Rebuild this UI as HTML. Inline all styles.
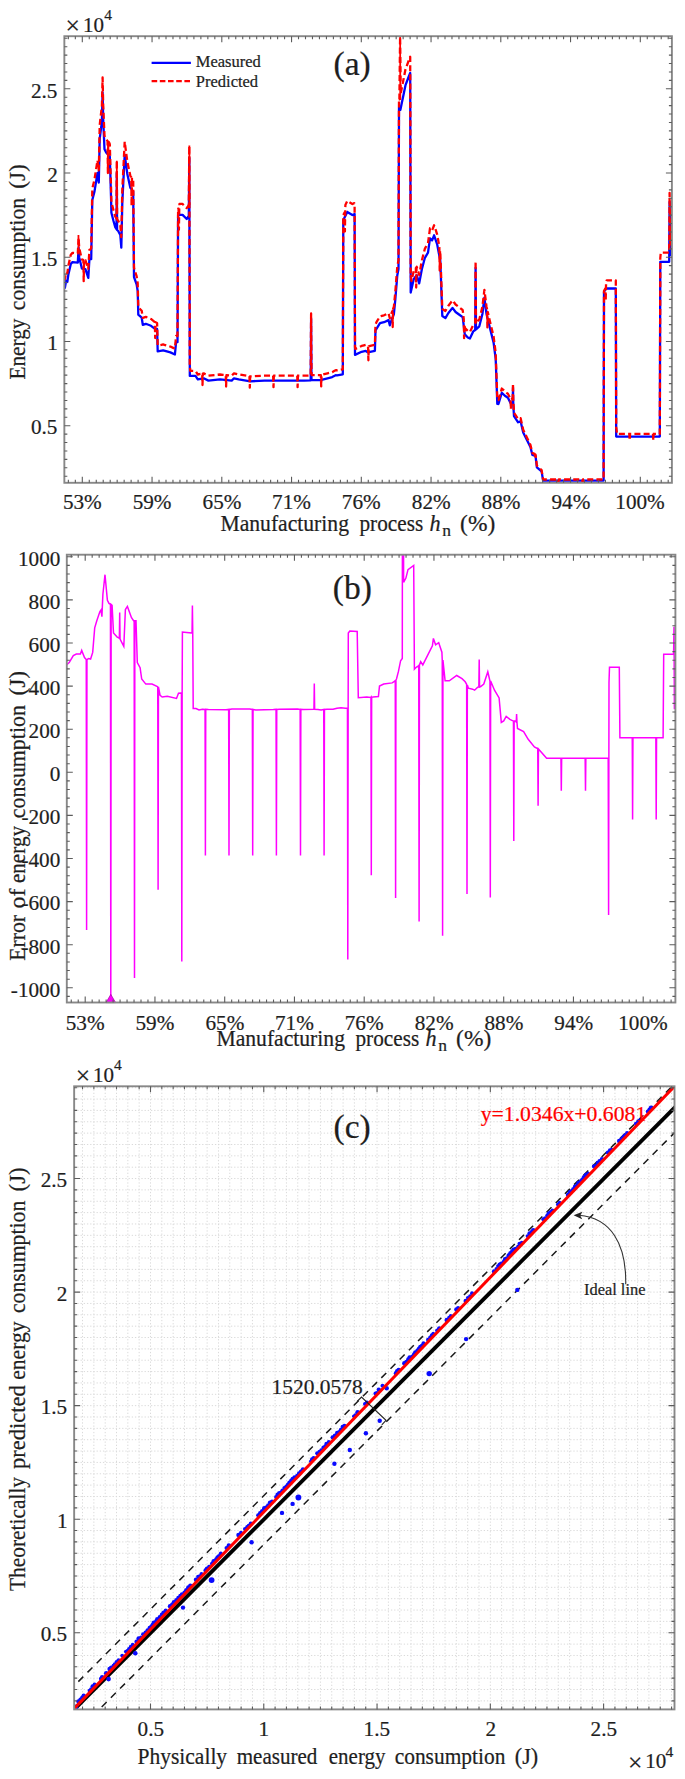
<!DOCTYPE html>
<html><head><meta charset="utf-8"><title>Energy consumption figure</title>
<style>html,body{margin:0;padding:0;background:#fff;}svg{display:block;}text{font-family:"Liberation Serif", serif;fill:#1e1e1e;stroke:#1e1e1e;stroke-width:0.22px;}</style>
</head><body>
<svg width="685" height="1779" viewBox="0 0 685 1779">
<rect width="685" height="1779" fill="#fff"/>
<defs><clipPath id="ca"><rect x="64.35" y="36.2" width="607.55" height="446.6"/></clipPath>
<clipPath id="cb"><rect x="66.8" y="554.7" width="608.6" height="447.8"/></clipPath>
<clipPath id="cc"><rect x="74.15" y="1086.3" width="600.35" height="623.1"/></clipPath></defs>
<g clip-path="url(#ca)" fill="none" stroke-linejoin="round">
<polyline points="64,286.1 64.9,287.8 66.1,280.8 67.3,282 68.4,274.4 70.8,263.9 72.5,262.1 77.8,262.7 78.6,247.5 79.2,257.4 81.9,268.5 85.4,269.1 88.3,277.9 89.4,259.2 91.2,259.2 92.3,200 94.5,191.4 97.5,173 98.8,182.6 99.7,138.8 101.9,121.3 102.6,92.5 103.2,119.6 104.5,149.3 106.3,152.8 109.8,156.3 111.1,200 111.4,212.8 113.5,221 115.2,227 116.5,229 116.8,173 117.1,230 118.2,231 120.3,235 121.3,247.6 122.3,202.6 124.7,154.6 127.3,173.9 130.4,187.9 133.2,191.4 134,277 136.6,284.4 137.7,291 138.3,314.6 141.7,317.7 142.8,324.8 145.8,323.8 151,325.8 155,328.9 157.1,329 157.7,351.4 163.2,350.4 170.4,352.4 174.9,354.5 176.1,342.2 177.5,342.2 178.1,214.9 182.6,214.9 186.7,219 188.8,216 189.3,158 189.8,375.9 195.5,375.9 197.8,379.4 203.7,378.3 208.4,380.6 220,379.4 231.7,380.6 234,378.3 238.7,379.4 250.4,381.3 264.4,380.6 278.4,380.6 297.1,380.6 304.1,380.6 310.7,380.4 311.1,318.7 311.5,380.1 320.5,380.1 327.5,378.3 332.2,377.1 335.7,375.2 337,375.3 342.8,374.3 343.3,220 347.3,211.9 352.4,215 354.6,214 355,354.9 361.6,351.8 365.7,350.8 367.7,352.4 374.9,350.8 375.5,330.4 380,323.2 384,322.2 388.5,320.1 389.8,325.3 391.2,321.2 393.9,314 395.3,299.7 397.3,275.2 398.5,269 399,107.7 400.4,109.7 405.5,85.2 408.6,77 410.2,72.9 410.7,292.6 413.7,279.3 416.7,275.2 419.2,283.4 421.9,269 424.9,257.8 428,252.7 430,238.4 432.1,240.4 434.1,235.3 437.2,244.5 440.3,260.9 442.3,316 445.4,318.1 448.4,313 452.5,307.9 455.6,312 459.7,315 462.7,317.1 464.8,334.4 467.8,337.5 469.9,338.5 473.2,331.4 475.2,330 475.6,268 476,329.3 479.3,326.3 482.4,314 484.4,297.7 486.5,314 489.5,326.3 493.6,342.6 495.7,359 497.3,403.9 498.5,404 501.8,392.7 504.9,395.8 507.9,397.8 511,404 512.7,402 513,387.6 513.3,405 514,416.2 518.1,422.3 520.6,421.3 523.2,432.5 526.3,438.7 530.4,446.9 532.4,455 535.5,456 536.9,467.3 541.6,471.4 543.1,480.6 603.6,480.6 604,292 605.3,289.5 607.2,288.5 615.8,288.5 616.2,436.6 659.8,436.6 660.3,261.8 669.2,261.8 669.6,202 670.3,255 671.2,245.5 672.5,215" stroke="#0000ff" stroke-width="2.3"/>
<polyline points="64,277.68 64.9,279.32 66.1,272.24 66.3,272.43 67.3,273.29 68.4,265.54 70.4,256.52 70.8,254.75 72.5,252.89 73.4,252.95 77.5,253.42 77.8,253.39 78.6,238.01 78.8,241.27 79.2,247.95 81.6,258.29 81.9,259.55 83.35,259.94 83.7,281.14 84.05,260.06 85.4,260.22 85.7,261.11 87.7,267.22 88.3,268.9 89.4,249.93 89.8,249.83 91.2,248.49 91.8,215.62 92.3,188.58 93.9,181.9 94.5,179.41 97,163.5 97.5,160.38 98.1,164.74 98.8,170.31 99,160.7 99.7,125.4 100,122.49 101.9,106 102.1,97.63 102.6,77.47 103.2,105.07 104.5,135.86 106.1,139.21 106.3,139.61 107.55,140.93 107.9,172.98 108.25,141.63 109.2,142.65 109.8,144.18 110.6,172.3 111.1,189.15 111.4,201.98 113.5,210.36 114.3,213.26 115.2,216.46 116.4,218.35 116.45,218.5 116.5,218.29 116.8,160.52 117.1,219.29 117.15,219.63 118.2,220.74 120.3,225.06 120.9,232.71 121.3,237.03 122.3,190.23 122.5,185.87 124.5,145.63 124.7,141.68 127.3,161.54 128.6,167.69 130.4,176.02 130.7,176.42 131.25,177.11 131.6,205.49 131.95,177.99 133.1,179.42 133.2,179.8 134,267.42 134.4,269.56 136.6,276.14 137.2,279.82 137.7,283.1 138.3,307.03 138.8,307.76 141.7,310.69 142.8,317.9 142.9,317.87 145.8,316.91 149.1,318.17 151,318.97 154.5,321.81 154.85,322.12 155,329.02 155.2,338.09 155.55,322.26 157.1,322.94 157.2,326.71 157.7,345.41 159.3,345.22 163.2,344.47 164.4,344.79 170.4,346.57 173.6,348.12 174.9,348.46 175.6,341.15 176.1,336.02 177.5,336.01 178.1,208.7 178.4,208.7 178.55,208.7 178.9,229.69 179.25,208.7 179.5,203.93 182.6,203.96 183.8,205.16 186.7,208.09 188.8,205.11 188.9,193.51 189.15,164.51 189.3,146.19 189.5,232.11 189.8,364.7 189.85,365.01 190.3,370.92 193.1,370.92 195.5,371.01 196.1,371.94 197.8,374.5 199.5,374.15 202.15,373.67 202.5,385.03 202.85,373.54 203.7,373.39 205.5,374.28 208.4,375.7 220,374.51 223.1,374.83 225.75,375.07 226.1,386.53 226.45,375.14 229.1,375.39 231.7,375.66 234,373.36 238.7,374.45 246.8,375.76 249.45,376.23 249.8,387.71 250.15,376.34 250.4,376.39 252.8,376.3 264.4,375.71 270.5,375.7 273.15,375.68 273.5,387.1 273.85,375.68 276.5,375.68 278.4,375.67 294.6,375.66 297.1,375.68 297.25,375.68 297.6,387.1 297.95,375.68 300.6,375.69 304.1,375.68 310.7,375.47 310.9,344.62 311.05,321.48 311.1,313.48 311.4,357.81 311.5,373.73 311.75,375.17 315.1,375.18 318.2,375.22 320.5,375.19 320.85,375.09 321.2,386.42 321.55,374.91 324.2,374.22 327.5,373.37 330.1,372.71 332.2,372.13 334.1,371.06 335.7,370.18 337,370.27 338.1,370.07 342.5,369.35 342.8,369.29 343.3,214.99 344.55,212.44 344.9,231.39 345.25,211.03 345.4,204.87 346.9,201.66 347.3,200.86 352.4,203.98 354.3,203.12 354.6,204.4 355,347.18 355.4,348.88 361.6,345.93 363.9,345.36 365.7,344.94 367.7,346.55 367.9,346.51 368.05,346.46 368.4,360.3 368.75,346.3 370.2,345.97 374.9,344.89 375.5,324.48 376.6,321.9 380,316.33 380.8,316.1 384,315.27 388.5,313.12 389.3,316.31 389.8,318.28 391.2,314.11 392.3,311.11 392.35,310.92 392.7,327.02 393.05,309.05 393.6,307.51 393.9,306.62 395.3,291.89 395.6,288.12 397.3,266.63 397.7,264.41 398.5,260.2 399,98.85 399.4,99.38 400.1,36.84 400.4,64.27 400.7,93.41 403,82.03 405.1,71.28 405.5,69.33 408.6,60.95 410.2,56.76 410.7,276.43 410.8,275.98 411.5,280.99 413.6,271.51 413.7,271.07 415.6,268.39 415.85,267.97 416.2,287.55 416.55,267.02 416.7,266.78 417.8,270.16 419.2,274.92 419.9,271.27 421.9,260.29 424.9,248.62 425.2,248.08 428,243.04 429.5,232.09 430,228.22 430.5,228.41 432.1,230.3 432.7,228.9 434.1,225.26 435.8,230.21 437.2,234.69 439,244.63 439.35,247.1 439.7,270.5 440.05,250.8 440.3,252.31 442.2,306.09 442.3,308.85 445.4,310.95 446.4,309.25 448.4,305.74 452.5,300.41 453.8,302.05 455.6,304.52 459.1,307.24 459.7,307.73 462.3,309.75 462.7,310.08 463.6,317.61 463.75,318.93 464.1,338.14 464.45,324.69 464.8,327.66 465.5,328.55 467.8,330.97 469.7,331.91 469.9,332.01 471.7,328.21 473.2,324.87 474.8,323.62 475.2,323.34 475.6,261.33 475.95,314.97 476,322.33 476.3,320.22 476.65,322.04 477.8,320.96 479.3,319.5 480.9,313.06 482.4,306.75 484.4,289.96 484.9,293.73 486.5,306.68 486.8,308.02 487.05,309.12 487.4,327.47 487.75,311.99 489.5,319.49 491.6,328.23 493.6,336.44 495.7,353.12 496.2,367.22 497.3,399.04 498.4,400.09 498.5,400.09 500.8,392.11 501.8,388.54 503.3,389.82 504.9,391.52 507,393.06 507.9,393.69 510,397.98 510.55,399.09 510.9,409.17 511,406.69 511.25,399.7 512.6,398.11 512.7,398 513,383.63 513.3,401.06 513.35,401.87 513.7,406.85 514,412.18 514.05,412.34 514.6,413.67 518.1,419.02 520.6,418.11 520.7,418.55 523.2,429.65 525.3,434.12 526.3,436.22 530.4,444.81 531.5,449.37 532.4,453.05 534.6,453.85 534.85,453.97 535.2,458.52 535.5,454.81 535.55,454.58 536.9,465.6 539.1,467.72 541.6,470.12 543.1,479.45 543.7,479.51 554.1,479.51 558.05,479.51 558.4,482.04 558.75,479.51 572.1,479.51 582.25,479.51 582.6,482.04 582.95,479.51 602.1,479.51 603.6,479.51 604,290.91 605.3,288.41 605.3,288.41 605.7,300.45 606.1,282.06 606.6,280.6 607.2,280.28 615.8,280.28 616.2,428.38 616.4,428.38 617,433.9 627.1,433.9 629.35,433.9 629.7,440.28 630.05,433.9 642.1,433.9 652.95,433.9 653.3,440.28 653.65,433.9 659.8,433.9 660.2,294.06 660.3,258.01 660.8,252.58 669.2,252.58 669.6,192.78 670.3,245.78 670.7,241.55 671.1,235.18 671.2,235.73 671.5,233.48 672.5,210.02" stroke="#ff0000" stroke-width="2.3" stroke-dasharray="6 3.2"/>
<path d="M400.1 30 L400.3 100 M189.35 145.5 L189.5 205 M116.8 160.8 L116.9 212 M78.45 235 L78.5 250" stroke="#ff0000" stroke-width="1.8"/>
</g>
<rect x="64.35" y="36.2" width="607.55" height="446.6" fill="none" stroke="#888888" stroke-width="1.9"/>
<path d="M68.35 482.8v-3M68.35 36.2v3M75.33 482.8v-3M75.33 36.2v3M82.3 482.8v-3M82.3 36.2v3M89.27 482.8v-3M89.27 36.2v3M96.25 482.8v-3M96.25 36.2v3M103.22 482.8v-3M103.22 36.2v3M110.2 482.8v-3M110.2 36.2v3M117.17 482.8v-3M117.17 36.2v3M124.15 482.8v-3M124.15 36.2v3M131.12 482.8v-3M131.12 36.2v3M138.1 482.8v-3M138.1 36.2v3M145.07 482.8v-3M145.07 36.2v3M152.05 482.8v-3M152.05 36.2v3M159.02 482.8v-3M159.02 36.2v3M166 482.8v-3M166 36.2v3M172.97 482.8v-3M172.97 36.2v3M179.95 482.8v-3M179.95 36.2v3M186.93 482.8v-3M186.93 36.2v3M193.9 482.8v-3M193.9 36.2v3M200.88 482.8v-3M200.88 36.2v3M207.85 482.8v-3M207.85 36.2v3M214.82 482.8v-3M214.82 36.2v3M221.8 482.8v-3M221.8 36.2v3M228.77 482.8v-3M228.77 36.2v3M235.75 482.8v-3M235.75 36.2v3M242.72 482.8v-3M242.72 36.2v3M249.7 482.8v-3M249.7 36.2v3M256.68 482.8v-3M256.68 36.2v3M263.65 482.8v-3M263.65 36.2v3M270.62 482.8v-3M270.62 36.2v3M277.6 482.8v-3M277.6 36.2v3M284.57 482.8v-3M284.57 36.2v3M291.55 482.8v-3M291.55 36.2v3M298.52 482.8v-3M298.52 36.2v3M305.5 482.8v-3M305.5 36.2v3M312.47 482.8v-3M312.47 36.2v3M319.45 482.8v-3M319.45 36.2v3M326.43 482.8v-3M326.43 36.2v3M333.4 482.8v-3M333.4 36.2v3M340.38 482.8v-3M340.38 36.2v3M347.35 482.8v-3M347.35 36.2v3M354.32 482.8v-3M354.32 36.2v3M361.3 482.8v-3M361.3 36.2v3M368.27 482.8v-3M368.27 36.2v3M375.25 482.8v-3M375.25 36.2v3M382.23 482.8v-3M382.23 36.2v3M389.2 482.8v-3M389.2 36.2v3M396.18 482.8v-3M396.18 36.2v3M403.15 482.8v-3M403.15 36.2v3M410.12 482.8v-3M410.12 36.2v3M417.1 482.8v-3M417.1 36.2v3M424.07 482.8v-3M424.07 36.2v3M431.05 482.8v-3M431.05 36.2v3M438.02 482.8v-3M438.02 36.2v3M445 482.8v-3M445 36.2v3M451.97 482.8v-3M451.97 36.2v3M458.95 482.8v-3M458.95 36.2v3M465.93 482.8v-3M465.93 36.2v3M472.9 482.8v-3M472.9 36.2v3M479.88 482.8v-3M479.88 36.2v3M486.85 482.8v-3M486.85 36.2v3M493.82 482.8v-3M493.82 36.2v3M500.8 482.8v-3M500.8 36.2v3M507.77 482.8v-3M507.77 36.2v3M514.75 482.8v-3M514.75 36.2v3M521.72 482.8v-3M521.72 36.2v3M528.7 482.8v-3M528.7 36.2v3M535.67 482.8v-3M535.67 36.2v3M542.65 482.8v-3M542.65 36.2v3M549.62 482.8v-3M549.62 36.2v3M556.6 482.8v-3M556.6 36.2v3M563.57 482.8v-3M563.57 36.2v3M570.55 482.8v-3M570.55 36.2v3M577.52 482.8v-3M577.52 36.2v3M584.5 482.8v-3M584.5 36.2v3M591.47 482.8v-3M591.47 36.2v3M598.45 482.8v-3M598.45 36.2v3M605.42 482.8v-3M605.42 36.2v3M612.4 482.8v-3M612.4 36.2v3M619.37 482.8v-3M619.37 36.2v3M626.35 482.8v-3M626.35 36.2v3M633.32 482.8v-3M633.32 36.2v3M640.3 482.8v-3M640.3 36.2v3M647.27 482.8v-3M647.27 36.2v3M654.25 482.8v-3M654.25 36.2v3M661.22 482.8v-3M661.22 36.2v3M668.2 482.8v-3M668.2 36.2v3M82.3 482.8v-6M82.3 36.2v6M152.05 482.8v-6M152.05 36.2v6M221.8 482.8v-6M221.8 36.2v6M291.55 482.8v-6M291.55 36.2v6M361.3 482.8v-6M361.3 36.2v6M431.05 482.8v-6M431.05 36.2v6M500.8 482.8v-6M500.8 36.2v6M570.55 482.8v-6M570.55 36.2v6M640.3 482.8v-6M640.3 36.2v6M64.35 476.24h3M671.9 476.24h-3M64.35 467.81h3M671.9 467.81h-3M64.35 459.39h3M671.9 459.39h-3M64.35 450.97h3M671.9 450.97h-3M64.35 442.54h3M671.9 442.54h-3M64.35 434.12h3M671.9 434.12h-3M64.35 425.7h3M671.9 425.7h-3M64.35 417.28h3M671.9 417.28h-3M64.35 408.85h3M671.9 408.85h-3M64.35 400.43h3M671.9 400.43h-3M64.35 392.01h3M671.9 392.01h-3M64.35 383.59h3M671.9 383.59h-3M64.35 375.16h3M671.9 375.16h-3M64.35 366.74h3M671.9 366.74h-3M64.35 358.32h3M671.9 358.32h-3M64.35 349.9h3M671.9 349.9h-3M64.35 341.48h3M671.9 341.48h-3M64.35 333.05h3M671.9 333.05h-3M64.35 324.63h3M671.9 324.63h-3M64.35 316.21h3M671.9 316.21h-3M64.35 307.79h3M671.9 307.79h-3M64.35 299.36h3M671.9 299.36h-3M64.35 290.94h3M671.9 290.94h-3M64.35 282.52h3M671.9 282.52h-3M64.35 274.09h3M671.9 274.09h-3M64.35 265.67h3M671.9 265.67h-3M64.35 257.25h3M671.9 257.25h-3M64.35 248.83h3M671.9 248.83h-3M64.35 240.4h3M671.9 240.4h-3M64.35 231.98h3M671.9 231.98h-3M64.35 223.56h3M671.9 223.56h-3M64.35 215.14h3M671.9 215.14h-3M64.35 206.72h3M671.9 206.72h-3M64.35 198.29h3M671.9 198.29h-3M64.35 189.87h3M671.9 189.87h-3M64.35 181.45h3M671.9 181.45h-3M64.35 173.03h3M671.9 173.03h-3M64.35 164.6h3M671.9 164.6h-3M64.35 156.18h3M671.9 156.18h-3M64.35 147.76h3M671.9 147.76h-3M64.35 139.33h3M671.9 139.33h-3M64.35 130.91h3M671.9 130.91h-3M64.35 122.49h3M671.9 122.49h-3M64.35 114.07h3M671.9 114.07h-3M64.35 105.64h3M671.9 105.64h-3M64.35 97.22h3M671.9 97.22h-3M64.35 88.8h3M671.9 88.8h-3M64.35 80.38h3M671.9 80.38h-3M64.35 71.95h3M671.9 71.95h-3M64.35 63.53h3M671.9 63.53h-3M64.35 55.11h3M671.9 55.11h-3M64.35 46.69h3M671.9 46.69h-3M64.35 38.26h3M671.9 38.26h-3M64.35 425.7h6M671.9 425.7h-6M64.35 341.48h6M671.9 341.48h-6M64.35 257.25h6M671.9 257.25h-6M64.35 173.03h6M671.9 173.03h-6M64.35 88.8h6M671.9 88.8h-6" stroke="#5c5c5c" stroke-width="1.1" fill="none"/>
<text x="62.88" y="509.3" font-size="21.2">53%</text>
<text x="132.63" y="509.3" font-size="21.2">59%</text>
<text x="202.6" y="509.3" font-size="21.2">65%</text>
<text x="272.08" y="509.3" font-size="21.2">71%</text>
<text x="341.83" y="509.3" font-size="21.2">76%</text>
<text x="411.85" y="509.3" font-size="21.2">82%</text>
<text x="481.6" y="509.3" font-size="21.2">88%</text>
<text x="551.45" y="509.3" font-size="21.2">94%</text>
<text x="615.32" y="509.3" font-size="21.2">100%</text>
<text x="30.95" y="434.4" font-size="21.2">0.5</text>
<text x="47.27" y="350.18" font-size="21.2">1</text>
<text x="30.95" y="265.95" font-size="21.2">1.5</text>
<text x="47.17" y="181.72" font-size="21.2">2</text>
<text x="30.95" y="97.5" font-size="21.2">2.5</text>
<text x="65.4" y="34" font-size="25.5">×</text><text x="83.1" y="31.9" font-size="21">10</text><text x="104.2" y="20.3" font-size="15.5">4</text>
<line x1="151.6" y1="62.9" x2="190.9" y2="62.9" stroke="#0000ff" stroke-width="2.3"/>
<line x1="151.6" y1="81.1" x2="190.9" y2="81.1" stroke="#ff0000" stroke-width="2.3" stroke-dasharray="5.6 2.6"/>
<text x="195.81" y="67.4" font-size="16.5">Measured</text>
<text x="195.81" y="86.9" font-size="16.5">Predicted</text>
<text x="333.59" y="75.2" font-size="33.5">(a)</text>
<text x="220.43" y="531.2" font-size="22.2" textLength="128.56" lengthAdjust="spacingAndGlyphs">Manufacturing</text><text x="359.47" y="531.2" font-size="22.2" textLength="63.69" lengthAdjust="spacingAndGlyphs">process</text><text x="429.62" y="531.2" font-size="22.2" font-style="italic">h</text><text x="442.35" y="536" font-size="17.5">n</text><text x="460.1" y="531.2" font-size="22.2" textLength="35.18" lengthAdjust="spacingAndGlyphs">(%)</text>
<text transform="translate(24.8 379.57) rotate(-90)" font-size="22.2" textLength="61.07" lengthAdjust="spacingAndGlyphs">Energy</text><text transform="translate(24.8 310.19) rotate(-90)" font-size="22.2" textLength="112.35" lengthAdjust="spacingAndGlyphs">consumption</text>
<text transform="translate(24.8 188.8) rotate(-90)" font-size="22.2" textLength="24.7" lengthAdjust="spacingAndGlyphs">(J)</text>
<g clip-path="url(#cb)" fill="none" stroke-linejoin="miter">
<polyline points="66.7,664.7 69.2,662.6 73.3,655.5 76.3,654 80.4,654 81.7,650.4 84.5,657.5 86.25,659.6 86.6,930 86.95,659.6 88.6,658.5 90.6,659 92.7,652.4 94.7,627.9 96.8,620.7 99.9,611.5 101,610 101.9,616.6 102.9,594.2 105,574.7 107.4,600.3 109,603.4 110.45,604.5 110.8,1010 111.15,604.5 112.1,605.4 113.5,633 117.2,637.1 119.3,638 119.35,639 119.7,612.6 120.05,639 123.8,646.3 125.4,609.5 127.4,606.4 131.5,617.7 133.6,620.7 134.15,620.7 134.5,978.1 134.85,620.7 136,620.7 137.3,662.6 140.1,667.7 141.7,679 145.8,684.1 152,684.1 157.4,686.5 157.75,687 158.1,889.7 158.45,687 160.1,695.3 162.2,697 167.3,696.3 176.5,698.4 178.5,693.3 181.3,693 181.45,693 181.8,961.5 182.15,693 182.4,632 186.7,632.4 191.8,633 192.05,633 192.4,605.4 192.75,633 193.2,708.6 196,708.6 199,710 202.4,709.2 205.05,709.4 205.4,855.5 205.75,709.4 208.4,709.6 226,709.8 228.65,709.4 229,855.5 229.35,709.4 232,709.1 249.7,708.9 252.35,709.4 252.7,855.5 253.05,709.4 255.7,709.9 273.4,709.6 276.05,709.4 276.4,855.5 276.75,709.4 279.4,709.3 297.5,709.1 300.15,709.4 300.5,855.5 300.85,709.4 303.5,709.5 313.8,709.2 313.95,709.2 314.3,683.5 314.65,709.2 318,709.4 321.1,709.9 323.75,709.4 324.1,855.5 324.45,709.4 327.1,709.2 333,709.3 337,708.2 341,707.8 345.4,708.3 347.45,708 347.8,959.4 348.15,708 348.3,633.1 349.8,631 357.2,631.4 358.3,697.7 366.8,697.1 370.8,697.5 370.95,697.3 371.3,875.3 371.65,697.3 373.1,697.1 378.4,696.6 379.5,686.1 383.7,684 392.2,682.9 395.2,680.8 395.25,680 395.6,897.9 395.95,680 396.5,679 398.5,671.2 400.6,660.7 402.3,658.5 403,-200 403.6,582.3 405.9,578.1 408,569.6 413.7,565.4 414.4,669.1 416.5,667 418.5,666 418.75,665 419.1,921.6 419.45,665 420.7,661.7 422.8,664.9 428.1,654.3 432.4,645.8 433.4,638.4 435.6,644.8 438.7,642.7 441.9,652.2 442.25,660 442.6,935.7 442.95,660 445.1,680.8 449.3,680.8 456.7,675.5 462,678.7 465.2,681.8 466.5,684 466.65,685 467,893.9 467.35,685 468.4,688.2 472.6,689.2 474.6,690.2 477.7,687.1 478.85,687 479.2,659.6 479.55,687 480.7,686.5 483.8,684.1 487.8,671.8 489.7,680 489.95,681 490.3,897.4 490.65,681 494.5,690.2 499.1,697.9 501.3,722.4 503.7,720.9 506.2,716.3 509.9,719.3 512.9,720.9 513.45,721 513.8,841 514.15,721 515.5,721 516.25,722 516.6,714.1 516.95,722 517.5,728.5 523.6,731.6 528.2,739.3 534.4,746.9 537.5,748.5 537.75,749 538.1,805.8 538.45,749 542,753.1 546.6,758.3 557,758.3 560.95,758.3 561.3,790.7 561.65,758.3 575,758.3 585.15,758.3 585.5,790.7 585.85,758.3 605,758.3 608.2,758.3 608.6,915.1 609,682.5 609.5,667.2 619.3,667.2 619.9,737.7 630,737.7 632.25,737.7 632.6,819.4 632.95,737.7 645,737.7 655.85,737.7 656.2,819.4 656.55,737.7 663.1,737.7 663.7,654.3 673.6,654.3 674,626.8 674.4,708.6 676,708.6" stroke="#ff00ff" stroke-width="1.5"/>
</g>
<path d="M106.0 1002.6 L110.8 994.4 L115.6 1002.6 Z" fill="#ff00ff" stroke="#a000a0" stroke-width="0.7"/>
<rect x="66.8" y="554.7" width="608.6" height="447.8" fill="none" stroke="#888888" stroke-width="1.9"/>
<path d="M71.25 1002.5v-3M71.25 554.7v3M78.23 1002.5v-3M78.23 554.7v3M85.2 1002.5v-3M85.2 554.7v3M92.17 1002.5v-3M92.17 554.7v3M99.15 1002.5v-3M99.15 554.7v3M106.12 1002.5v-3M106.12 554.7v3M113.1 1002.5v-3M113.1 554.7v3M120.08 1002.5v-3M120.08 554.7v3M127.05 1002.5v-3M127.05 554.7v3M134.03 1002.5v-3M134.03 554.7v3M141 1002.5v-3M141 554.7v3M147.97 1002.5v-3M147.97 554.7v3M154.95 1002.5v-3M154.95 554.7v3M161.93 1002.5v-3M161.93 554.7v3M168.9 1002.5v-3M168.9 554.7v3M175.88 1002.5v-3M175.88 554.7v3M182.85 1002.5v-3M182.85 554.7v3M189.82 1002.5v-3M189.82 554.7v3M196.8 1002.5v-3M196.8 554.7v3M203.77 1002.5v-3M203.77 554.7v3M210.75 1002.5v-3M210.75 554.7v3M217.73 1002.5v-3M217.73 554.7v3M224.7 1002.5v-3M224.7 554.7v3M231.68 1002.5v-3M231.68 554.7v3M238.65 1002.5v-3M238.65 554.7v3M245.62 1002.5v-3M245.62 554.7v3M252.6 1002.5v-3M252.6 554.7v3M259.57 1002.5v-3M259.57 554.7v3M266.55 1002.5v-3M266.55 554.7v3M273.52 1002.5v-3M273.52 554.7v3M280.5 1002.5v-3M280.5 554.7v3M287.47 1002.5v-3M287.47 554.7v3M294.45 1002.5v-3M294.45 554.7v3M301.43 1002.5v-3M301.43 554.7v3M308.4 1002.5v-3M308.4 554.7v3M315.38 1002.5v-3M315.38 554.7v3M322.35 1002.5v-3M322.35 554.7v3M329.32 1002.5v-3M329.32 554.7v3M336.3 1002.5v-3M336.3 554.7v3M343.27 1002.5v-3M343.27 554.7v3M350.25 1002.5v-3M350.25 554.7v3M357.22 1002.5v-3M357.22 554.7v3M364.2 1002.5v-3M364.2 554.7v3M371.17 1002.5v-3M371.17 554.7v3M378.15 1002.5v-3M378.15 554.7v3M385.12 1002.5v-3M385.12 554.7v3M392.1 1002.5v-3M392.1 554.7v3M399.07 1002.5v-3M399.07 554.7v3M406.05 1002.5v-3M406.05 554.7v3M413.02 1002.5v-3M413.02 554.7v3M420 1002.5v-3M420 554.7v3M426.97 1002.5v-3M426.97 554.7v3M433.95 1002.5v-3M433.95 554.7v3M440.92 1002.5v-3M440.92 554.7v3M447.9 1002.5v-3M447.9 554.7v3M454.87 1002.5v-3M454.87 554.7v3M461.85 1002.5v-3M461.85 554.7v3M468.82 1002.5v-3M468.82 554.7v3M475.8 1002.5v-3M475.8 554.7v3M482.77 1002.5v-3M482.77 554.7v3M489.75 1002.5v-3M489.75 554.7v3M496.72 1002.5v-3M496.72 554.7v3M503.7 1002.5v-3M503.7 554.7v3M510.67 1002.5v-3M510.67 554.7v3M517.65 1002.5v-3M517.65 554.7v3M524.62 1002.5v-3M524.62 554.7v3M531.6 1002.5v-3M531.6 554.7v3M538.58 1002.5v-3M538.58 554.7v3M545.55 1002.5v-3M545.55 554.7v3M552.52 1002.5v-3M552.52 554.7v3M559.5 1002.5v-3M559.5 554.7v3M566.48 1002.5v-3M566.48 554.7v3M573.45 1002.5v-3M573.45 554.7v3M580.42 1002.5v-3M580.42 554.7v3M587.4 1002.5v-3M587.4 554.7v3M594.38 1002.5v-3M594.38 554.7v3M601.35 1002.5v-3M601.35 554.7v3M608.33 1002.5v-3M608.33 554.7v3M615.3 1002.5v-3M615.3 554.7v3M622.27 1002.5v-3M622.27 554.7v3M629.25 1002.5v-3M629.25 554.7v3M636.23 1002.5v-3M636.23 554.7v3M643.2 1002.5v-3M643.2 554.7v3M650.18 1002.5v-3M650.18 554.7v3M657.15 1002.5v-3M657.15 554.7v3M664.12 1002.5v-3M664.12 554.7v3M671.1 1002.5v-3M671.1 554.7v3M85.2 1002.5v-6M85.2 554.7v6M154.95 1002.5v-6M154.95 554.7v6M224.7 1002.5v-6M224.7 554.7v6M294.45 1002.5v-6M294.45 554.7v6M364.2 1002.5v-6M364.2 554.7v6M433.95 1002.5v-6M433.95 554.7v6M503.7 1002.5v-6M503.7 554.7v6M573.45 1002.5v-6M573.45 554.7v6M643.2 1002.5v-6M643.2 554.7v6M66.8 996.42h3M675.4 996.42h-3M66.8 987.8h3M675.4 987.8h-3M66.8 979.18h3M675.4 979.18h-3M66.8 970.56h3M675.4 970.56h-3M66.8 961.94h3M675.4 961.94h-3M66.8 953.32h3M675.4 953.32h-3M66.8 944.7h3M675.4 944.7h-3M66.8 936.08h3M675.4 936.08h-3M66.8 927.46h3M675.4 927.46h-3M66.8 918.84h3M675.4 918.84h-3M66.8 910.22h3M675.4 910.22h-3M66.8 901.6h3M675.4 901.6h-3M66.8 892.98h3M675.4 892.98h-3M66.8 884.36h3M675.4 884.36h-3M66.8 875.74h3M675.4 875.74h-3M66.8 867.12h3M675.4 867.12h-3M66.8 858.5h3M675.4 858.5h-3M66.8 849.88h3M675.4 849.88h-3M66.8 841.26h3M675.4 841.26h-3M66.8 832.64h3M675.4 832.64h-3M66.8 824.02h3M675.4 824.02h-3M66.8 815.4h3M675.4 815.4h-3M66.8 806.78h3M675.4 806.78h-3M66.8 798.16h3M675.4 798.16h-3M66.8 789.54h3M675.4 789.54h-3M66.8 780.92h3M675.4 780.92h-3M66.8 772.3h3M675.4 772.3h-3M66.8 763.68h3M675.4 763.68h-3M66.8 755.06h3M675.4 755.06h-3M66.8 746.44h3M675.4 746.44h-3M66.8 737.82h3M675.4 737.82h-3M66.8 729.2h3M675.4 729.2h-3M66.8 720.58h3M675.4 720.58h-3M66.8 711.96h3M675.4 711.96h-3M66.8 703.34h3M675.4 703.34h-3M66.8 694.72h3M675.4 694.72h-3M66.8 686.1h3M675.4 686.1h-3M66.8 677.48h3M675.4 677.48h-3M66.8 668.86h3M675.4 668.86h-3M66.8 660.24h3M675.4 660.24h-3M66.8 651.62h3M675.4 651.62h-3M66.8 643h3M675.4 643h-3M66.8 634.38h3M675.4 634.38h-3M66.8 625.76h3M675.4 625.76h-3M66.8 617.14h3M675.4 617.14h-3M66.8 608.52h3M675.4 608.52h-3M66.8 599.9h3M675.4 599.9h-3M66.8 591.28h3M675.4 591.28h-3M66.8 582.66h3M675.4 582.66h-3M66.8 574.04h3M675.4 574.04h-3M66.8 565.42h3M675.4 565.42h-3M66.8 556.8h3M675.4 556.8h-3M66.8 987.8h6M675.4 987.8h-6M66.8 944.7h6M675.4 944.7h-6M66.8 901.6h6M675.4 901.6h-6M66.8 858.5h6M675.4 858.5h-6M66.8 815.4h6M675.4 815.4h-6M66.8 772.3h6M675.4 772.3h-6M66.8 729.2h6M675.4 729.2h-6M66.8 686.1h6M675.4 686.1h-6M66.8 643h6M675.4 643h-6M66.8 599.9h6M675.4 599.9h-6M66.8 556.8h6M675.4 556.8h-6" stroke="#5c5c5c" stroke-width="1.1" fill="none"/>
<text x="65.78" y="1029.8" font-size="21.2">53%</text>
<text x="135.53" y="1029.8" font-size="21.2">59%</text>
<text x="205.5" y="1029.8" font-size="21.2">65%</text>
<text x="274.98" y="1029.8" font-size="21.2">71%</text>
<text x="344.73" y="1029.8" font-size="21.2">76%</text>
<text x="414.75" y="1029.8" font-size="21.2">82%</text>
<text x="484.5" y="1029.8" font-size="21.2">88%</text>
<text x="554.35" y="1029.8" font-size="21.2">94%</text>
<text x="618.22" y="1029.8" font-size="21.2">100%</text>
<text x="10.85" y="996.6" font-size="21.2">-1000</text>
<text x="21.45" y="953.5" font-size="21.2">-800</text>
<text x="21.45" y="910.4" font-size="21.2">-600</text>
<text x="21.45" y="867.3" font-size="21.2">-400</text>
<text x="21.45" y="824.2" font-size="21.2">-200</text>
<text x="49.75" y="781.1" font-size="21.2">0</text>
<text x="28.55" y="738" font-size="21.2">200</text>
<text x="28.55" y="694.9" font-size="21.2">400</text>
<text x="28.55" y="651.8" font-size="21.2">600</text>
<text x="28.55" y="608.7" font-size="21.2">800</text>
<text x="17.95" y="565.6" font-size="21.2">1000</text>
<text x="332.79" y="598.8" font-size="33.5">(b)</text>
<text x="216.43" y="1046.1" font-size="22.2" textLength="128.56" lengthAdjust="spacingAndGlyphs">Manufacturing</text><text x="355.47" y="1046.1" font-size="22.2" textLength="63.69" lengthAdjust="spacingAndGlyphs">process</text><text x="425.62" y="1046.1" font-size="22.2" font-style="italic">h</text><text x="438.35" y="1050.9" font-size="17.5">n</text><text x="456.1" y="1046.1" font-size="22.2" textLength="35.18" lengthAdjust="spacingAndGlyphs">(%)</text>
<text transform="translate(24.8 960.77) rotate(-90)" font-size="22.2" textLength="45.89" lengthAdjust="spacingAndGlyphs">Error</text><text transform="translate(24.8 908.49) rotate(-90)" font-size="22.2" textLength="19.94" lengthAdjust="spacingAndGlyphs">of</text><text transform="translate(24.8 883.09) rotate(-90)" font-size="22.2" textLength="57.15" lengthAdjust="spacingAndGlyphs">energy</text><text transform="translate(24.8 818.19) rotate(-90)" font-size="22.2" textLength="113.05" lengthAdjust="spacingAndGlyphs">consumption</text>
<text transform="translate(24.8 695.5) rotate(-90)" font-size="22.2" textLength="24.6" lengthAdjust="spacingAndGlyphs">(J)</text>
<path d="M82.53 1086.3V1709.4M74.15 1700.88H674.5M93.86 1086.3V1709.4M74.15 1689.53H674.5M105.19 1086.3V1709.4M74.15 1678.17H674.5M116.52 1086.3V1709.4M74.15 1666.82H674.5M127.84 1086.3V1709.4M74.15 1655.46H674.5M139.17 1086.3V1709.4M74.15 1644.11H674.5M150.5 1086.3V1709.4M74.15 1632.75H674.5M161.83 1086.3V1709.4M74.15 1621.39H674.5M173.16 1086.3V1709.4M74.15 1610.04H674.5M184.48 1086.3V1709.4M74.15 1598.68H674.5M195.81 1086.3V1709.4M74.15 1587.33H674.5M207.14 1086.3V1709.4M74.15 1575.97H674.5M218.47 1086.3V1709.4M74.15 1564.62H674.5M229.79 1086.3V1709.4M74.15 1553.26H674.5M241.12 1086.3V1709.4M74.15 1541.91H674.5M252.45 1086.3V1709.4M74.15 1530.56H674.5M263.77 1086.3V1709.4M74.15 1519.2H674.5M275.1 1086.3V1709.4M74.15 1507.85H674.5M286.43 1086.3V1709.4M74.15 1496.49H674.5M297.76 1086.3V1709.4M74.15 1485.13H674.5M309.09 1086.3V1709.4M74.15 1473.78H674.5M320.41 1086.3V1709.4M74.15 1462.42H674.5M331.74 1086.3V1709.4M74.15 1451.07H674.5M343.07 1086.3V1709.4M74.15 1439.71H674.5M354.39 1086.3V1709.4M74.15 1428.36H674.5M365.72 1086.3V1709.4M74.15 1417.01H674.5M377.05 1086.3V1709.4M74.15 1405.65H674.5M388.38 1086.3V1709.4M74.15 1394.3H674.5M399.71 1086.3V1709.4M74.15 1382.94H674.5M411.03 1086.3V1709.4M74.15 1371.59H674.5M422.36 1086.3V1709.4M74.15 1360.23H674.5M433.69 1086.3V1709.4M74.15 1348.88H674.5M445.02 1086.3V1709.4M74.15 1337.52H674.5M456.34 1086.3V1709.4M74.15 1326.16H674.5M467.67 1086.3V1709.4M74.15 1314.81H674.5M479 1086.3V1709.4M74.15 1303.45H674.5M490.33 1086.3V1709.4M74.15 1292.1H674.5M501.65 1086.3V1709.4M74.15 1280.74H674.5M512.98 1086.3V1709.4M74.15 1269.39H674.5M524.31 1086.3V1709.4M74.15 1258.04H674.5M535.63 1086.3V1709.4M74.15 1246.68H674.5M546.96 1086.3V1709.4M74.15 1235.33H674.5M558.29 1086.3V1709.4M74.15 1223.97H674.5M569.62 1086.3V1709.4M74.15 1212.62H674.5M580.94 1086.3V1709.4M74.15 1201.26H674.5M592.27 1086.3V1709.4M74.15 1189.9H674.5M603.6 1086.3V1709.4M74.15 1178.55H674.5M614.93 1086.3V1709.4M74.15 1167.19H674.5M626.26 1086.3V1709.4M74.15 1155.84H674.5M637.58 1086.3V1709.4M74.15 1144.49H674.5M648.91 1086.3V1709.4M74.15 1133.13H674.5M660.24 1086.3V1709.4M74.15 1121.78H674.5M671.57 1086.3V1709.4M74.15 1110.42H674.5M74.15 1099.07H674.5M74.15 1087.71H674.5" stroke="#dadada" stroke-width="1" stroke-dasharray="1.3 1.9" fill="none"/>
<g clip-path="url(#cc)" fill="none">
<line x1="69.15" y1="1690.81" x2="679.5" y2="1078.98" stroke="#1a1a1a" stroke-width="1.5" stroke-dasharray="7 6"/>
<line x1="74.15" y1="1734.6" x2="679.5" y2="1127.78" stroke="#1a1a1a" stroke-width="1.5" stroke-dasharray="7 6"/>
<line x1="71.15" y1="1712.61" x2="677.5" y2="1104.78" stroke="#000" stroke-width="3.8"/>
<circle cx="75.6" cy="1707.3" r="2.7" fill="#0a0aff"/>
<circle cx="78.47" cy="1701.39" r="2.26" fill="#0a0aff"/>
<circle cx="80.27" cy="1699.48" r="1.89" fill="#0a0aff"/>
<circle cx="82.07" cy="1697.28" r="1.85" fill="#0a0aff"/>
<circle cx="83.7" cy="1695.57" r="2.15" fill="#0a0aff"/>
<circle cx="89.64" cy="1690.71" r="2.06" fill="#0a0aff"/>
<circle cx="90.93" cy="1689" r="1.82" fill="#0a0aff"/>
<circle cx="92.55" cy="1686.34" r="2.06" fill="#0a0aff"/>
<circle cx="94.61" cy="1684.5" r="2.03" fill="#0a0aff"/>
<circle cx="100.83" cy="1678.76" r="1.94" fill="#0a0aff"/>
<circle cx="102.15" cy="1677.11" r="2.22" fill="#0a0aff"/>
<circle cx="106.17" cy="1673.26" r="2.26" fill="#0a0aff"/>
<circle cx="109.59" cy="1669.03" r="2.19" fill="#0a0aff"/>
<circle cx="111.28" cy="1667.76" r="2.28" fill="#0a0aff"/>
<circle cx="113.44" cy="1665.66" r="1.85" fill="#0a0aff"/>
<circle cx="114.83" cy="1664.34" r="2.08" fill="#0a0aff"/>
<circle cx="116.44" cy="1661.76" r="1.87" fill="#0a0aff"/>
<circle cx="118.55" cy="1660.08" r="1.91" fill="#0a0aff"/>
<circle cx="122.18" cy="1655.56" r="1.91" fill="#0a0aff"/>
<circle cx="125.89" cy="1651.55" r="1.91" fill="#0a0aff"/>
<circle cx="127.69" cy="1650.77" r="1.95" fill="#0a0aff"/>
<circle cx="128.98" cy="1649.01" r="1.92" fill="#0a0aff"/>
<circle cx="130.99" cy="1647.14" r="2.28" fill="#0a0aff"/>
<circle cx="132.69" cy="1644.71" r="1.89" fill="#0a0aff"/>
<circle cx="136.57" cy="1641.78" r="2.17" fill="#0a0aff"/>
<circle cx="138.66" cy="1638.38" r="2.24" fill="#0a0aff"/>
<circle cx="140.9" cy="1637.44" r="1.82" fill="#0a0aff"/>
<circle cx="143.06" cy="1634.22" r="1.93" fill="#0a0aff"/>
<circle cx="145.4" cy="1632.46" r="1.89" fill="#0a0aff"/>
<circle cx="147.52" cy="1630.38" r="2.08" fill="#0a0aff"/>
<circle cx="149.74" cy="1627.99" r="2.26" fill="#0a0aff"/>
<circle cx="151.27" cy="1626.43" r="2.02" fill="#0a0aff"/>
<circle cx="152.6" cy="1624.88" r="2.09" fill="#0a0aff"/>
<circle cx="153.88" cy="1622.71" r="2.29" fill="#0a0aff"/>
<circle cx="156" cy="1621.01" r="1.87" fill="#0a0aff"/>
<circle cx="157.23" cy="1619.2" r="2.15" fill="#0a0aff"/>
<circle cx="159.68" cy="1617.11" r="2.04" fill="#0a0aff"/>
<circle cx="161.66" cy="1614.46" r="1.84" fill="#0a0aff"/>
<circle cx="163.6" cy="1612.62" r="2.17" fill="#0a0aff"/>
<circle cx="165.67" cy="1610.45" r="1.98" fill="#0a0aff"/>
<circle cx="170.02" cy="1606.14" r="2.23" fill="#0a0aff"/>
<circle cx="172.08" cy="1604.67" r="2.09" fill="#0a0aff"/>
<circle cx="173.97" cy="1602.3" r="2.3" fill="#0a0aff"/>
<circle cx="176.32" cy="1600.27" r="2.17" fill="#0a0aff"/>
<circle cx="178.11" cy="1597.68" r="1.84" fill="#0a0aff"/>
<circle cx="180.31" cy="1595.78" r="2.04" fill="#0a0aff"/>
<circle cx="181.9" cy="1594.31" r="2.11" fill="#0a0aff"/>
<circle cx="184.37" cy="1592.54" r="1.95" fill="#0a0aff"/>
<circle cx="186.36" cy="1590.22" r="2.25" fill="#0a0aff"/>
<circle cx="188.16" cy="1587.18" r="1.96" fill="#0a0aff"/>
<circle cx="190.34" cy="1585.67" r="2.2" fill="#0a0aff"/>
<circle cx="195.99" cy="1579.71" r="2.22" fill="#0a0aff"/>
<circle cx="198.08" cy="1576.8" r="1.94" fill="#0a0aff"/>
<circle cx="199.78" cy="1576.14" r="1.91" fill="#0a0aff"/>
<circle cx="201.47" cy="1574.03" r="1.96" fill="#0a0aff"/>
<circle cx="205.64" cy="1570.47" r="2.24" fill="#0a0aff"/>
<circle cx="206.81" cy="1568.37" r="1.95" fill="#0a0aff"/>
<circle cx="209.12" cy="1566.69" r="2.03" fill="#0a0aff"/>
<circle cx="212.04" cy="1563.81" r="2.11" fill="#0a0aff"/>
<circle cx="213.63" cy="1561.17" r="2.2" fill="#0a0aff"/>
<circle cx="216.14" cy="1559.32" r="2.04" fill="#0a0aff"/>
<circle cx="217.54" cy="1557.41" r="2.16" fill="#0a0aff"/>
<circle cx="219.08" cy="1556.03" r="2.15" fill="#0a0aff"/>
<circle cx="220.82" cy="1553.55" r="2" fill="#0a0aff"/>
<circle cx="226.58" cy="1548.08" r="2.11" fill="#0a0aff"/>
<circle cx="228.84" cy="1545.54" r="2.24" fill="#0a0aff"/>
<circle cx="238.54" cy="1534.96" r="2.29" fill="#0a0aff"/>
<circle cx="240.95" cy="1532.64" r="1.96" fill="#0a0aff"/>
<circle cx="245.05" cy="1528.96" r="2.08" fill="#0a0aff"/>
<circle cx="247.33" cy="1527.27" r="2.2" fill="#0a0aff"/>
<circle cx="248.65" cy="1525.67" r="1.97" fill="#0a0aff"/>
<circle cx="250.82" cy="1523.45" r="2.06" fill="#0a0aff"/>
<circle cx="258.09" cy="1515.3" r="1.95" fill="#0a0aff"/>
<circle cx="260.19" cy="1513.13" r="2.22" fill="#0a0aff"/>
<circle cx="262.16" cy="1511.33" r="2.22" fill="#0a0aff"/>
<circle cx="264.29" cy="1508.34" r="2.28" fill="#0a0aff"/>
<circle cx="266.38" cy="1507.24" r="2.07" fill="#0a0aff"/>
<circle cx="268.29" cy="1505.55" r="2.28" fill="#0a0aff"/>
<circle cx="269.91" cy="1502.61" r="2.08" fill="#0a0aff"/>
<circle cx="271.99" cy="1501.66" r="2.07" fill="#0a0aff"/>
<circle cx="275.93" cy="1496.91" r="1.86" fill="#0a0aff"/>
<circle cx="277.56" cy="1494.51" r="2.04" fill="#0a0aff"/>
<circle cx="279.31" cy="1493.17" r="2.26" fill="#0a0aff"/>
<circle cx="280.94" cy="1492.45" r="1.9" fill="#0a0aff"/>
<circle cx="282.39" cy="1490.45" r="1.98" fill="#0a0aff"/>
<circle cx="284.24" cy="1487.87" r="1.86" fill="#0a0aff"/>
<circle cx="286.28" cy="1486.63" r="2.07" fill="#0a0aff"/>
<circle cx="287.99" cy="1484.51" r="2.06" fill="#0a0aff"/>
<circle cx="289.39" cy="1482.69" r="2.12" fill="#0a0aff"/>
<circle cx="291.28" cy="1480.77" r="2.23" fill="#0a0aff"/>
<circle cx="292.77" cy="1478.9" r="2.25" fill="#0a0aff"/>
<circle cx="294.38" cy="1477.04" r="1.91" fill="#0a0aff"/>
<circle cx="297.04" cy="1475.58" r="1.92" fill="#0a0aff"/>
<circle cx="299.15" cy="1473.46" r="2.22" fill="#0a0aff"/>
<circle cx="300.9" cy="1471.59" r="2" fill="#0a0aff"/>
<circle cx="302.93" cy="1469.37" r="2.14" fill="#0a0aff"/>
<circle cx="310.89" cy="1461.33" r="1.85" fill="#0a0aff"/>
<circle cx="312.09" cy="1459.36" r="2.08" fill="#0a0aff"/>
<circle cx="313.65" cy="1458.25" r="2.22" fill="#0a0aff"/>
<circle cx="317.2" cy="1453.35" r="2.03" fill="#0a0aff"/>
<circle cx="319.5" cy="1451.76" r="2.06" fill="#0a0aff"/>
<circle cx="321.42" cy="1450.51" r="2.15" fill="#0a0aff"/>
<circle cx="323.51" cy="1447.63" r="2.17" fill="#0a0aff"/>
<circle cx="325.35" cy="1446.2" r="2.06" fill="#0a0aff"/>
<circle cx="326.46" cy="1444" r="2.15" fill="#0a0aff"/>
<circle cx="328.83" cy="1442.19" r="2.1" fill="#0a0aff"/>
<circle cx="332.71" cy="1437.35" r="2.17" fill="#0a0aff"/>
<circle cx="335.03" cy="1435.77" r="2.25" fill="#0a0aff"/>
<circle cx="337.18" cy="1432.95" r="2.18" fill="#0a0aff"/>
<circle cx="339.15" cy="1432.05" r="1.97" fill="#0a0aff"/>
<circle cx="340.88" cy="1429.79" r="2.12" fill="#0a0aff"/>
<circle cx="342.67" cy="1426.97" r="2.13" fill="#0a0aff"/>
<circle cx="344.46" cy="1425.72" r="2.07" fill="#0a0aff"/>
<circle cx="353.83" cy="1416.29" r="1.83" fill="#0a0aff"/>
<circle cx="355.44" cy="1415.12" r="1.93" fill="#0a0aff"/>
<circle cx="357.61" cy="1412.21" r="2.28" fill="#0a0aff"/>
<circle cx="364.91" cy="1403.94" r="1.88" fill="#0a0aff"/>
<circle cx="366.87" cy="1402.62" r="2.11" fill="#0a0aff"/>
<circle cx="375.42" cy="1393.4" r="1.95" fill="#0a0aff"/>
<circle cx="376.95" cy="1392.92" r="1.88" fill="#0a0aff"/>
<circle cx="378.81" cy="1389.6" r="2.17" fill="#0a0aff"/>
<circle cx="382.5" cy="1385.76" r="2.01" fill="#0a0aff"/>
<circle cx="395.74" cy="1373.43" r="2.06" fill="#0a0aff"/>
<circle cx="396.98" cy="1371.14" r="2.03" fill="#0a0aff"/>
<circle cx="398.65" cy="1369.82" r="2.19" fill="#0a0aff"/>
<circle cx="404.29" cy="1363.2" r="2.19" fill="#0a0aff"/>
<circle cx="406.48" cy="1361.95" r="2.14" fill="#0a0aff"/>
<circle cx="408.28" cy="1359.49" r="2.18" fill="#0a0aff"/>
<circle cx="409.68" cy="1357.47" r="2.26" fill="#0a0aff"/>
<circle cx="412.24" cy="1356.32" r="1.94" fill="#0a0aff"/>
<circle cx="413.99" cy="1354.43" r="2.07" fill="#0a0aff"/>
<circle cx="415.19" cy="1352.26" r="2.08" fill="#0a0aff"/>
<circle cx="417.25" cy="1350.45" r="1.91" fill="#0a0aff"/>
<circle cx="418.81" cy="1348.24" r="1.84" fill="#0a0aff"/>
<circle cx="420.31" cy="1347.04" r="2.18" fill="#0a0aff"/>
<circle cx="421.96" cy="1345.92" r="2.2" fill="#0a0aff"/>
<circle cx="423.43" cy="1343.2" r="1.96" fill="#0a0aff"/>
<circle cx="427.85" cy="1339.64" r="1.85" fill="#0a0aff"/>
<circle cx="430.2" cy="1337.67" r="2.08" fill="#0a0aff"/>
<circle cx="431.97" cy="1335.49" r="2.19" fill="#0a0aff"/>
<circle cx="433.23" cy="1333.58" r="1.84" fill="#0a0aff"/>
<circle cx="437.1" cy="1330.42" r="1.98" fill="#0a0aff"/>
<circle cx="439.21" cy="1328.28" r="2.15" fill="#0a0aff"/>
<circle cx="446.79" cy="1319.96" r="2.27" fill="#0a0aff"/>
<circle cx="449.09" cy="1317.64" r="1.98" fill="#0a0aff"/>
<circle cx="450.78" cy="1315.85" r="1.9" fill="#0a0aff"/>
<circle cx="456.39" cy="1309.42" r="2.24" fill="#0a0aff"/>
<circle cx="458.08" cy="1308.07" r="2.07" fill="#0a0aff"/>
<circle cx="465.7" cy="1300.88" r="2.17" fill="#0a0aff"/>
<circle cx="467.81" cy="1297.79" r="1.87" fill="#0a0aff"/>
<circle cx="470.06" cy="1296.1" r="1.91" fill="#0a0aff"/>
<circle cx="472.03" cy="1293.21" r="2" fill="#0a0aff"/>
<circle cx="494.01" cy="1271.44" r="2.17" fill="#0a0aff"/>
<circle cx="496.39" cy="1268.94" r="1.9" fill="#0a0aff"/>
<circle cx="497.9" cy="1266.06" r="1.83" fill="#0a0aff"/>
<circle cx="499.64" cy="1264.78" r="2.19" fill="#0a0aff"/>
<circle cx="501.2" cy="1263.48" r="2.09" fill="#0a0aff"/>
<circle cx="503.62" cy="1261.55" r="1.89" fill="#0a0aff"/>
<circle cx="504.96" cy="1259.16" r="2.1" fill="#0a0aff"/>
<circle cx="506.65" cy="1258.13" r="1.89" fill="#0a0aff"/>
<circle cx="508.69" cy="1255.57" r="2.21" fill="#0a0aff"/>
<circle cx="510.41" cy="1253.23" r="2.26" fill="#0a0aff"/>
<circle cx="512.06" cy="1251.4" r="2.04" fill="#0a0aff"/>
<circle cx="513.61" cy="1249.82" r="2.2" fill="#0a0aff"/>
<circle cx="515.47" cy="1248.59" r="1.94" fill="#0a0aff"/>
<circle cx="517.95" cy="1246.48" r="1.81" fill="#0a0aff"/>
<circle cx="519.59" cy="1243.87" r="2.16" fill="#0a0aff"/>
<circle cx="521.77" cy="1242.66" r="1.96" fill="#0a0aff"/>
<circle cx="527.49" cy="1236.11" r="1.88" fill="#0a0aff"/>
<circle cx="529.54" cy="1233.51" r="2.22" fill="#0a0aff"/>
<circle cx="531.93" cy="1231.95" r="2.16" fill="#0a0aff"/>
<circle cx="533.27" cy="1230.23" r="2.28" fill="#0a0aff"/>
<circle cx="543.3" cy="1219.24" r="1.96" fill="#0a0aff"/>
<circle cx="545.11" cy="1218.23" r="2.03" fill="#0a0aff"/>
<circle cx="547.07" cy="1215.57" r="1.85" fill="#0a0aff"/>
<circle cx="548.71" cy="1213.41" r="2.21" fill="#0a0aff"/>
<circle cx="550.93" cy="1212.08" r="2.16" fill="#0a0aff"/>
<circle cx="552.46" cy="1210.36" r="1.81" fill="#0a0aff"/>
<circle cx="557.97" cy="1204.51" r="1.95" fill="#0a0aff"/>
<circle cx="559.6" cy="1202.62" r="1.93" fill="#0a0aff"/>
<circle cx="567.95" cy="1194.9" r="2.14" fill="#0a0aff"/>
<circle cx="569.93" cy="1192.34" r="2.22" fill="#0a0aff"/>
<circle cx="571.94" cy="1190.55" r="1.88" fill="#0a0aff"/>
<circle cx="573.43" cy="1189.26" r="2.26" fill="#0a0aff"/>
<circle cx="575.01" cy="1186.68" r="2.18" fill="#0a0aff"/>
<circle cx="577.32" cy="1184.8" r="2.01" fill="#0a0aff"/>
<circle cx="578.52" cy="1182.96" r="2.29" fill="#0a0aff"/>
<circle cx="580.71" cy="1180.83" r="1.81" fill="#0a0aff"/>
<circle cx="582.36" cy="1179.05" r="1.85" fill="#0a0aff"/>
<circle cx="584.04" cy="1177.1" r="2.21" fill="#0a0aff"/>
<circle cx="586.01" cy="1175.08" r="2.25" fill="#0a0aff"/>
<circle cx="588" cy="1173.45" r="1.87" fill="#0a0aff"/>
<circle cx="594.03" cy="1166.48" r="2.11" fill="#0a0aff"/>
<circle cx="595.78" cy="1165.82" r="2.09" fill="#0a0aff"/>
<circle cx="597.62" cy="1162.79" r="1.98" fill="#0a0aff"/>
<circle cx="599.42" cy="1160.85" r="1.87" fill="#0a0aff"/>
<circle cx="601.84" cy="1159.01" r="2.08" fill="#0a0aff"/>
<circle cx="607.7" cy="1152.51" r="1.94" fill="#0a0aff"/>
<circle cx="610.07" cy="1150.47" r="2.22" fill="#0a0aff"/>
<circle cx="611.74" cy="1149.55" r="1.82" fill="#0a0aff"/>
<circle cx="619.15" cy="1141.03" r="2.2" fill="#0a0aff"/>
<circle cx="620.51" cy="1139.82" r="1.87" fill="#0a0aff"/>
<circle cx="622.33" cy="1138.42" r="2.06" fill="#0a0aff"/>
<circle cx="623.87" cy="1136.56" r="2.12" fill="#0a0aff"/>
<circle cx="625.27" cy="1135.42" r="2.28" fill="#0a0aff"/>
<circle cx="627.14" cy="1133.04" r="2.11" fill="#0a0aff"/>
<circle cx="635.96" cy="1123.87" r="2.08" fill="#0a0aff"/>
<circle cx="638.22" cy="1121.37" r="2.02" fill="#0a0aff"/>
<circle cx="640.67" cy="1119.61" r="2.16" fill="#0a0aff"/>
<circle cx="647.8" cy="1111.57" r="2.05" fill="#0a0aff"/>
<circle cx="649.46" cy="1109.45" r="2.06" fill="#0a0aff"/>
<circle cx="651.12" cy="1108.22" r="1.92" fill="#0a0aff"/>
<circle cx="651" cy="1107.6" r="2.2" fill="#0a0aff"/>
<circle cx="108.6" cy="1679.1" r="2.3" fill="#0a0aff"/>
<circle cx="135.3" cy="1653.3" r="2.3" fill="#0a0aff"/>
<circle cx="183" cy="1607.6" r="2.2" fill="#0a0aff"/>
<circle cx="211.6" cy="1580.1" r="2.9" fill="#0a0aff"/>
<circle cx="251.6" cy="1542.2" r="2.2" fill="#0a0aff"/>
<circle cx="282" cy="1512.9" r="2.2" fill="#0a0aff"/>
<circle cx="292.6" cy="1503.9" r="2.2" fill="#0a0aff"/>
<circle cx="298.4" cy="1497.5" r="2.9" fill="#0a0aff"/>
<circle cx="334.4" cy="1463.8" r="2.2" fill="#0a0aff"/>
<circle cx="349.8" cy="1450" r="2.2" fill="#0a0aff"/>
<circle cx="365.9" cy="1433.3" r="2.2" fill="#0a0aff"/>
<circle cx="379.7" cy="1420.8" r="2.2" fill="#0a0aff"/>
<circle cx="386.7" cy="1388.3" r="2.2" fill="#0a0aff"/>
<circle cx="429.2" cy="1373.6" r="2.7" fill="#0a0aff"/>
<circle cx="466.1" cy="1339.1" r="2.2" fill="#0a0aff"/>
<circle cx="517.3" cy="1289.9" r="2.2" fill="#0a0aff"/>
<line x1="71.15" y1="1711.71" x2="677.5" y2="1083.29" stroke="#ff0000" stroke-width="3.0"/>
</g>
<rect x="74.15" y="1086.3" width="600.35" height="623.1" fill="none" stroke="#888888" stroke-width="1.9"/>
<path d="M82.53 1709.4v-3M82.53 1086.3v3M93.86 1709.4v-3M93.86 1086.3v3M105.19 1709.4v-3M105.19 1086.3v3M116.52 1709.4v-3M116.52 1086.3v3M127.84 1709.4v-3M127.84 1086.3v3M139.17 1709.4v-3M139.17 1086.3v3M150.5 1709.4v-3M150.5 1086.3v3M161.83 1709.4v-3M161.83 1086.3v3M173.16 1709.4v-3M173.16 1086.3v3M184.48 1709.4v-3M184.48 1086.3v3M195.81 1709.4v-3M195.81 1086.3v3M207.14 1709.4v-3M207.14 1086.3v3M218.47 1709.4v-3M218.47 1086.3v3M229.79 1709.4v-3M229.79 1086.3v3M241.12 1709.4v-3M241.12 1086.3v3M252.45 1709.4v-3M252.45 1086.3v3M263.77 1709.4v-3M263.77 1086.3v3M275.1 1709.4v-3M275.1 1086.3v3M286.43 1709.4v-3M286.43 1086.3v3M297.76 1709.4v-3M297.76 1086.3v3M309.09 1709.4v-3M309.09 1086.3v3M320.41 1709.4v-3M320.41 1086.3v3M331.74 1709.4v-3M331.74 1086.3v3M343.07 1709.4v-3M343.07 1086.3v3M354.4 1709.4v-3M354.4 1086.3v3M365.72 1709.4v-3M365.72 1086.3v3M377.05 1709.4v-3M377.05 1086.3v3M388.38 1709.4v-3M388.38 1086.3v3M399.71 1709.4v-3M399.71 1086.3v3M411.03 1709.4v-3M411.03 1086.3v3M422.36 1709.4v-3M422.36 1086.3v3M433.69 1709.4v-3M433.69 1086.3v3M445.02 1709.4v-3M445.02 1086.3v3M456.34 1709.4v-3M456.34 1086.3v3M467.67 1709.4v-3M467.67 1086.3v3M479 1709.4v-3M479 1086.3v3M490.33 1709.4v-3M490.33 1086.3v3M501.65 1709.4v-3M501.65 1086.3v3M512.98 1709.4v-3M512.98 1086.3v3M524.31 1709.4v-3M524.31 1086.3v3M535.63 1709.4v-3M535.63 1086.3v3M546.96 1709.4v-3M546.96 1086.3v3M558.29 1709.4v-3M558.29 1086.3v3M569.62 1709.4v-3M569.62 1086.3v3M580.95 1709.4v-3M580.95 1086.3v3M592.27 1709.4v-3M592.27 1086.3v3M603.6 1709.4v-3M603.6 1086.3v3M614.93 1709.4v-3M614.93 1086.3v3M626.26 1709.4v-3M626.26 1086.3v3M637.58 1709.4v-3M637.58 1086.3v3M648.91 1709.4v-3M648.91 1086.3v3M660.24 1709.4v-3M660.24 1086.3v3M671.57 1709.4v-3M671.57 1086.3v3M150.5 1709.4v-6M150.5 1086.3v6M263.77 1709.4v-6M263.77 1086.3v6M377.05 1709.4v-6M377.05 1086.3v6M490.33 1709.4v-6M490.33 1086.3v6M603.6 1709.4v-6M603.6 1086.3v6M74.15 1700.88h3M674.5 1700.88h-3M74.15 1689.53h3M674.5 1689.53h-3M74.15 1678.17h3M674.5 1678.17h-3M74.15 1666.82h3M674.5 1666.82h-3M74.15 1655.46h3M674.5 1655.46h-3M74.15 1644.11h3M674.5 1644.11h-3M74.15 1632.75h3M674.5 1632.75h-3M74.15 1621.39h3M674.5 1621.39h-3M74.15 1610.04h3M674.5 1610.04h-3M74.15 1598.68h3M674.5 1598.68h-3M74.15 1587.33h3M674.5 1587.33h-3M74.15 1575.97h3M674.5 1575.97h-3M74.15 1564.62h3M674.5 1564.62h-3M74.15 1553.26h3M674.5 1553.26h-3M74.15 1541.91h3M674.5 1541.91h-3M74.15 1530.56h3M674.5 1530.56h-3M74.15 1519.2h3M674.5 1519.2h-3M74.15 1507.85h3M674.5 1507.85h-3M74.15 1496.49h3M674.5 1496.49h-3M74.15 1485.13h3M674.5 1485.13h-3M74.15 1473.78h3M674.5 1473.78h-3M74.15 1462.42h3M674.5 1462.42h-3M74.15 1451.07h3M674.5 1451.07h-3M74.15 1439.71h3M674.5 1439.71h-3M74.15 1428.36h3M674.5 1428.36h-3M74.15 1417.01h3M674.5 1417.01h-3M74.15 1405.65h3M674.5 1405.65h-3M74.15 1394.3h3M674.5 1394.3h-3M74.15 1382.94h3M674.5 1382.94h-3M74.15 1371.59h3M674.5 1371.59h-3M74.15 1360.23h3M674.5 1360.23h-3M74.15 1348.88h3M674.5 1348.88h-3M74.15 1337.52h3M674.5 1337.52h-3M74.15 1326.16h3M674.5 1326.16h-3M74.15 1314.81h3M674.5 1314.81h-3M74.15 1303.45h3M674.5 1303.45h-3M74.15 1292.1h3M674.5 1292.1h-3M74.15 1280.74h3M674.5 1280.74h-3M74.15 1269.39h3M674.5 1269.39h-3M74.15 1258.03h3M674.5 1258.03h-3M74.15 1246.68h3M674.5 1246.68h-3M74.15 1235.32h3M674.5 1235.32h-3M74.15 1223.97h3M674.5 1223.97h-3M74.15 1212.62h3M674.5 1212.62h-3M74.15 1201.26h3M674.5 1201.26h-3M74.15 1189.9h3M674.5 1189.9h-3M74.15 1178.55h3M674.5 1178.55h-3M74.15 1167.19h3M674.5 1167.19h-3M74.15 1155.84h3M674.5 1155.84h-3M74.15 1144.48h3M674.5 1144.48h-3M74.15 1133.13h3M674.5 1133.13h-3M74.15 1121.77h3M674.5 1121.77h-3M74.15 1110.42h3M674.5 1110.42h-3M74.15 1099.07h3M674.5 1099.07h-3M74.15 1087.71h3M674.5 1087.71h-3M74.15 1632.75h6M674.5 1632.75h-6M74.15 1519.2h6M674.5 1519.2h-6M74.15 1405.65h6M674.5 1405.65h-6M74.15 1292.1h6M674.5 1292.1h-6M74.15 1178.55h6M674.5 1178.55h-6" stroke="#5c5c5c" stroke-width="1.1" fill="none"/>
<text x="137.55" y="1735.6" font-size="21.2">0.5</text>
<text x="40.65" y="1641.35" font-size="21.2">0.5</text>
<text x="258.51" y="1735.6" font-size="21.2">1</text>
<text x="56.97" y="1527.8" font-size="21.2">1</text>
<text x="363.62" y="1735.6" font-size="21.2">1.5</text>
<text x="40.65" y="1414.25" font-size="21.2">1.5</text>
<text x="485.43" y="1735.6" font-size="21.2">2</text>
<text x="56.87" y="1300.7" font-size="21.2">2</text>
<text x="590.6" y="1735.6" font-size="21.2">2.5</text>
<text x="40.65" y="1187.15" font-size="21.2">2.5</text>
<text x="75.8" y="1084.2" font-size="25.5">×</text><text x="93.1" y="1081.7" font-size="21">10</text><text x="114" y="1070.3" font-size="15.5">4</text>
<text x="628" y="1771" font-size="25.5">×</text><text x="645.2" y="1767.7" font-size="21">10</text><text x="665.6" y="1757.3" font-size="15.5">4</text>
<text x="333.49" y="1137.9" font-size="33.5">(c)</text>
<text x="137.53" y="1764.4" font-size="22.2" textLength="89.61" lengthAdjust="spacingAndGlyphs">Physically</text><text x="236.76" y="1764.4" font-size="22.2" textLength="80.6" lengthAdjust="spacingAndGlyphs">measured</text><text x="328.81" y="1764.4" font-size="22.2" textLength="56.65" lengthAdjust="spacingAndGlyphs">energy</text><text x="394.71" y="1764.4" font-size="22.2" textLength="110.65" lengthAdjust="spacingAndGlyphs">consumption</text>
<text x="514.8" y="1764.4" font-size="22.2">(J)</text>
<text transform="translate(24.8 1591.04) rotate(-90)" font-size="22.2" textLength="114.07" lengthAdjust="spacingAndGlyphs">Theoretically</text><text transform="translate(24.8 1469.03) rotate(-90)" font-size="22.2" textLength="83.76" lengthAdjust="spacingAndGlyphs">predicted</text><text transform="translate(24.8 1379.79) rotate(-90)" font-size="22.2" textLength="58.35" lengthAdjust="spacingAndGlyphs">energy</text><text transform="translate(24.8 1313.09) rotate(-90)" font-size="22.2" textLength="112.35" lengthAdjust="spacingAndGlyphs">consumption</text>
<text transform="translate(24.8 1191.4) rotate(-90)" font-size="22.2" textLength="24" lengthAdjust="spacingAndGlyphs">(J)</text>
<text x="480.78" y="1120.8" font-size="21.9" textLength="165.49" lengthAdjust="spacingAndGlyphs" style="fill:#ff0000;stroke:#ff0000">y=1.0346x+0.6081</text>
<text x="271.49" y="1394" font-size="21.3" textLength="91.26" lengthAdjust="spacingAndGlyphs">1520.0578</text>
<text x="584.03" y="1295.3" font-size="16.4" textLength="61.41" lengthAdjust="spacingAndGlyphs">Ideal line</text>
<path d="M625.7 1284.2 C 626.5 1244, 611 1218, 579 1215.3" fill="none" stroke="#333" stroke-width="1.1"/>
<path d="M573.6 1215.3 L582.5 1211.8 L580.2 1215.4 L582.2 1219.2 Z" fill="#222"/>
<path d="M357.1 1401.5 L361.5 1397.1 L386.0 1420.3 L381.8 1424.9" fill="none" stroke="#222" stroke-width="1.1"/>
</svg></body></html>
